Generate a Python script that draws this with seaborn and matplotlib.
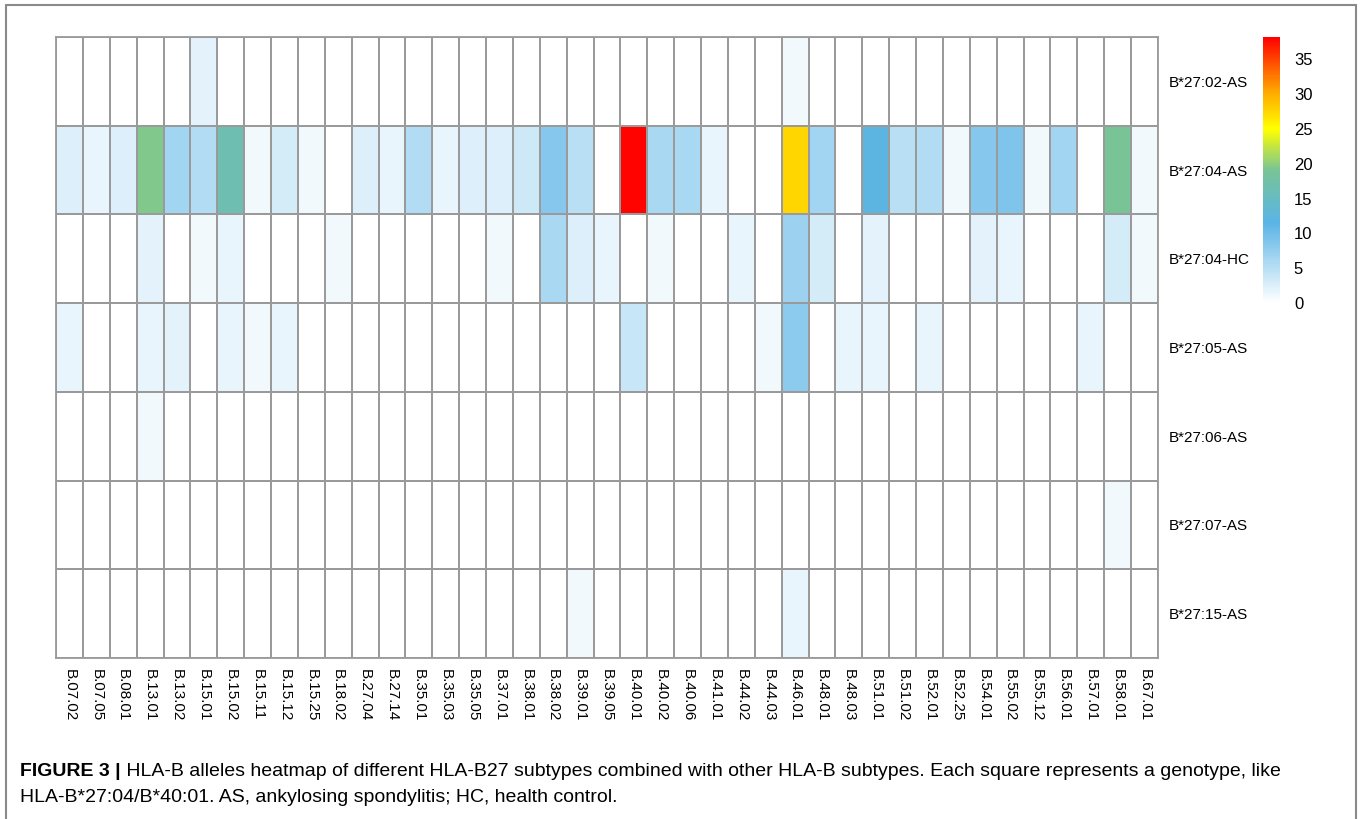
import numpy as np
import pandas as pd
import seaborn as sns
import matplotlib
import matplotlib.pyplot as plt
from matplotlib.colors import LinearSegmentedColormap
from matplotlib.lines import Line2D

matplotlib.use('Agg')

# HLA-B27 subtype / group (rows)
subtypes = ['B*27:02-AS', 'B*27:04-AS', 'B*27:04-HC', 'B*27:05-AS',
            'B*27:06-AS', 'B*27:07-AS', 'B*27:15-AS']

# partner HLA-B alleles (columns)
alleles = ['B.07.02', 'B.07.05', 'B.08.01', 'B.13.01', 'B.13.02', 'B.15.01', 'B.15.02',
           'B.15.11', 'B.15.12', 'B.15.25', 'B.18.02', 'B.27.04', 'B.27.14', 'B.35.01',
           'B.35.03', 'B.35.05', 'B.37.01', 'B.38.01', 'B.38.02', 'B.39.01', 'B.39.05',
           'B.40.01', 'B.40.02', 'B.40.06', 'B.41.01', 'B.44.02', 'B.44.03', 'B.46.01',
           'B.48.01', 'B.48.03', 'B.51.01', 'B.51.02', 'B.52.01', 'B.52.25', 'B.54.01',
           'B.55.02', 'B.55.12', 'B.56.01', 'B.57.01', 'B.58.01', 'B.67.01']

# counts, one list per row
b2702_as = [0, 0, 0, 0, 0, 2, 0, 0, 0, 0, 0, 0, 0, 0,
            0, 0, 0, 0, 0, 0, 0, 0, 0, 0, 0, 0, 0, 1,
            0, 0, 0, 0, 0, 0, 0, 0, 0, 0, 0, 0, 0]
b2704_as = [2.5, 1.5, 2.5, 19.5, 6.5, 5.5, 16.5, 1, 3, 1, 0, 2.5, 1.5, 5.5,
            1.5, 2.5, 2.5, 3.5, 8.5, 5, 0, 38, 6, 6, 1.5, 0, 0, 27.5,
            6.5, 0, 12, 5, 5.5, 1, 8.5, 9, 1, 6.5, 0, 19, 1]
b2704_hc = [0, 0, 0, 2, 0, 1, 1.5, 0, 0, 0, 1, 0, 0, 0,
            0, 0, 1, 0, 6, 2.5, 1.5, 0, 1, 0, 0, 1.5, 0, 7,
            3, 0, 2, 0, 0, 0, 2, 1.5, 0, 0, 0, 3, 1]
b2705_as = [1.5, 0, 0, 1.5, 2, 0, 1.5, 1, 1.5, 0, 0, 0, 0, 0,
            0, 0, 0, 0, 0, 0, 0, 4, 0, 0, 0, 0, 1, 8,
            0, 1.5, 1.5, 0, 1.5, 0, 0, 0, 0, 0, 1.5, 0, 0]
b2706_as = [0, 0, 0, 1, 0, 0, 0, 0, 0, 0, 0, 0, 0, 0,
            0, 0, 0, 0, 0, 0, 0, 0, 0, 0, 0, 0, 0, 0,
            0, 0, 0, 0, 0, 0, 0, 0, 0, 0, 0, 0, 0]
b2707_as = [0, 0, 0, 0, 0, 0, 0, 0, 0, 0, 0, 0, 0, 0,
            0, 0, 0, 0, 0, 0, 0, 0, 0, 0, 0, 0, 0, 0,
            0, 0, 0, 0, 0, 0, 0, 0, 0, 0, 0, 1, 0]
b2715_as = [0, 0, 0, 0, 0, 0, 0, 0, 0, 0, 0, 0, 0, 0,
            0, 0, 0, 0, 0, 1, 0, 0, 0, 0, 0, 0, 0, 1.5,
            0, 0, 0, 0, 0, 0, 0, 0, 0, 0, 0, 0, 0]

cbar_ticks = [0, 5, 10, 15, 20, 25, 30, 35]

caption_bold = 'FIGURE 3 |'
caption_1 = (' HLA-B alleles heatmap of different HLA-B27 subtypes combined with other '
             'HLA-B subtypes. Each square represents a genotype, like')
caption_2 = 'HLA-B*27:04/B*40:01. AS, ankylosing spondylitis; HC, health control.'

df = pd.DataFrame([b2702_as, b2704_as, b2704_hc, b2705_as, b2706_as, b2707_as, b2715_as],
                  index=subtypes, columns=alleles)

vmax = 38.2
cmap = LinearSegmentedColormap.from_list('wbgyr', [
    (0.0, '#FFFFFF'),
    (0.30, '#5AB4E6'),
    (0.50, '#78C496'),
    (0.655, '#FFFF00'),
    (0.80, '#FFA500'),
    (1.0, '#FF0000'),
])

sns.set_style('white')
plt.rcParams['font.family'] = ['Liberation Sans', 'DejaVu Sans']
plt.rcParams['text.color'] = 'black'
plt.rcParams['xtick.color'] = 'black'
plt.rcParams['ytick.color'] = 'black'

fig = plt.figure(figsize=(13.62, 8.19), dpi=100)
W, H = 1362, 819
ax = fig.add_axes([56 / W, 1 - 658 / H, 1102 / W, 621 / H])
cax = fig.add_axes([1263 / W, 1 - 303 / H, 17 / W, 266 / H])

sns.heatmap(df, ax=ax, cbar_ax=cax, cmap=cmap, vmin=0, vmax=vmax,
            linewidths=1.3, linecolor='#9a9a9a',
            cbar_kws={'ticks': cbar_ticks})

# outer border of the grid
for s in ax.spines.values():
    s.set_visible(True)
    s.set_color('#9a9a9a')
    s.set_linewidth(1.3)

ax.yaxis.tick_right()
ax.set_yticklabels(subtypes, rotation=0, fontsize=11, color='black')
ax.set_xticklabels(alleles, rotation=270, fontsize=11, va='top', ha='center', color='black')
ax.tick_params(axis='both', length=0, pad=8)
ax.set_xlabel('')
ax.set_ylabel('')

cax.tick_params(length=0, labelsize=12, pad=10, labelcolor='black')
cax.set_frame_on(False)

# figure frame
frame_kw = dict(color='#8a8a8a', linewidth=1.5, transform=fig.transFigure)
fig.add_artist(Line2D([6 / W, 6 / W], [0, 1 - 5 / H], **frame_kw))
fig.add_artist(Line2D([1356 / W, 1356 / W], [0, 1 - 5 / H], **frame_kw))
fig.add_artist(Line2D([6 / W, 1356 / W], [1 - 5 / H, 1 - 5 / H], **frame_kw))

# caption
cap_size = 14
t = fig.text(20 / W, 1 - 772 / H, caption_bold, fontsize=cap_size, fontweight='bold',
             va='center', ha='left', color='black')
renderer = fig.canvas.get_renderer()
bb = t.get_window_extent(renderer=renderer)
fig.text(bb.x1 / W, 1 - 772 / H, caption_1, fontsize=cap_size, va='center', ha='left',
         color='black')
fig.text(20 / W, 1 - 797 / H, caption_2, fontsize=cap_size, va='center', ha='left',
         color='black')

fig.savefig('out.png', dpi=100)
plt.close(fig)
